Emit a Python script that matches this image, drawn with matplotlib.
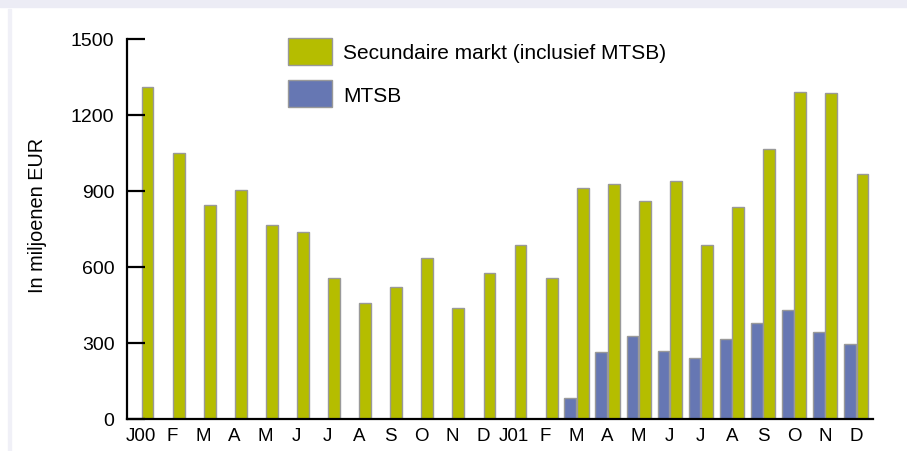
import numpy as np
import matplotlib.pyplot as plt
from matplotlib.patches import Rectangle, Patch

plt.rcParams['font.family'] = ['Liberation Sans', 'DejaVu Sans']

months = ['J00', 'F', 'M', 'A', 'M', 'J', 'J', 'A', 'S', 'O', 'N', 'D',
          'J01', 'F', 'M', 'A', 'M', 'J', 'J', 'A', 'S', 'O', 'N', 'D']
secundair = [1310, 1050, 843, 905, 765, 740, 557, 458, 520, 637, 437, 578,
             688, 557, 910, 928, 860, 940, 688, 835, 1065, 1290, 1285, 967]
mtsb = [0, 0, 0, 0, 0, 0, 0, 0, 0, 0, 0, 0,
        0, 0, 83, 263, 326, 268, 240, 316, 378, 432, 345, 296]
yticks = [0, 300, 600, 900, 1200, 1500]

green = '#b5bd00'
blue = '#6677b3'
edge = '#999999'

W, H = 907, 452
fig = plt.figure(figsize=(W / 100, H / 100), dpi=100)

# lavender frame bits
fig.patches.append(Rectangle((0, 1 - 8 / H), 1, 8 / H, transform=fig.transFigure,
                             color='#ececf5', zorder=0))
fig.patches.append(Rectangle((8 / W, 0), 3 / W, 1 - 10 / H, transform=fig.transFigure,
                             color='#f0f0f7', zorder=0))

ax = fig.add_axes([127 / W, 1 - 420 / H, (873 - 127) / W, (420 - 40) / H])
ax.patch.set_alpha(0)

x = np.arange(len(months))
w = 0.38
ax.bar(x - 0.19, mtsb, width=w, color=blue, edgecolor=edge, linewidth=1)
ax.bar(x + 0.21, secundair, width=w, color=green, edgecolor=edge, linewidth=1)

ax.set_xlim(-0.45, len(months) - 0.45)
ax.set_ylim(0, 1500)
ax.set_yticks(yticks)
ax.set_xticks(x + 0.01)
ax.set_xticklabels(months)

for s in ['top', 'right']:
    ax.spines[s].set_visible(False)
for s in ['left', 'bottom']:
    ax.spines[s].set_linewidth(1.6)
    ax.spines[s].set_color('black')

ax.tick_params(axis='y', direction='in', length=13, width=1.6, pad=9, labelsize=14)
ax.tick_params(axis='x', length=0, pad=6, labelsize=13.5)
ax.set_ylabel('In miljoenen EUR', fontsize=14.3)
ax.yaxis.set_label_coords((47 - 127) / (873 - 127), (420 - 215) / 380)

handles = [Patch(facecolor=green, edgecolor=edge, label='Secundaire markt (inclusief MTSB)'),
           Patch(facecolor=blue, edgecolor=edge, label='MTSB')]
fig.legend(handles=handles, loc='upper left', bbox_to_anchor=(288 / W, 1 - 39 / H),
           frameon=False, fontsize=15, handlelength=2.1, handleheight=1.6,
           handletextpad=0.55, labelspacing=0.75, borderpad=0, borderaxespad=0)

fig.savefig('out.png', dpi=100)
